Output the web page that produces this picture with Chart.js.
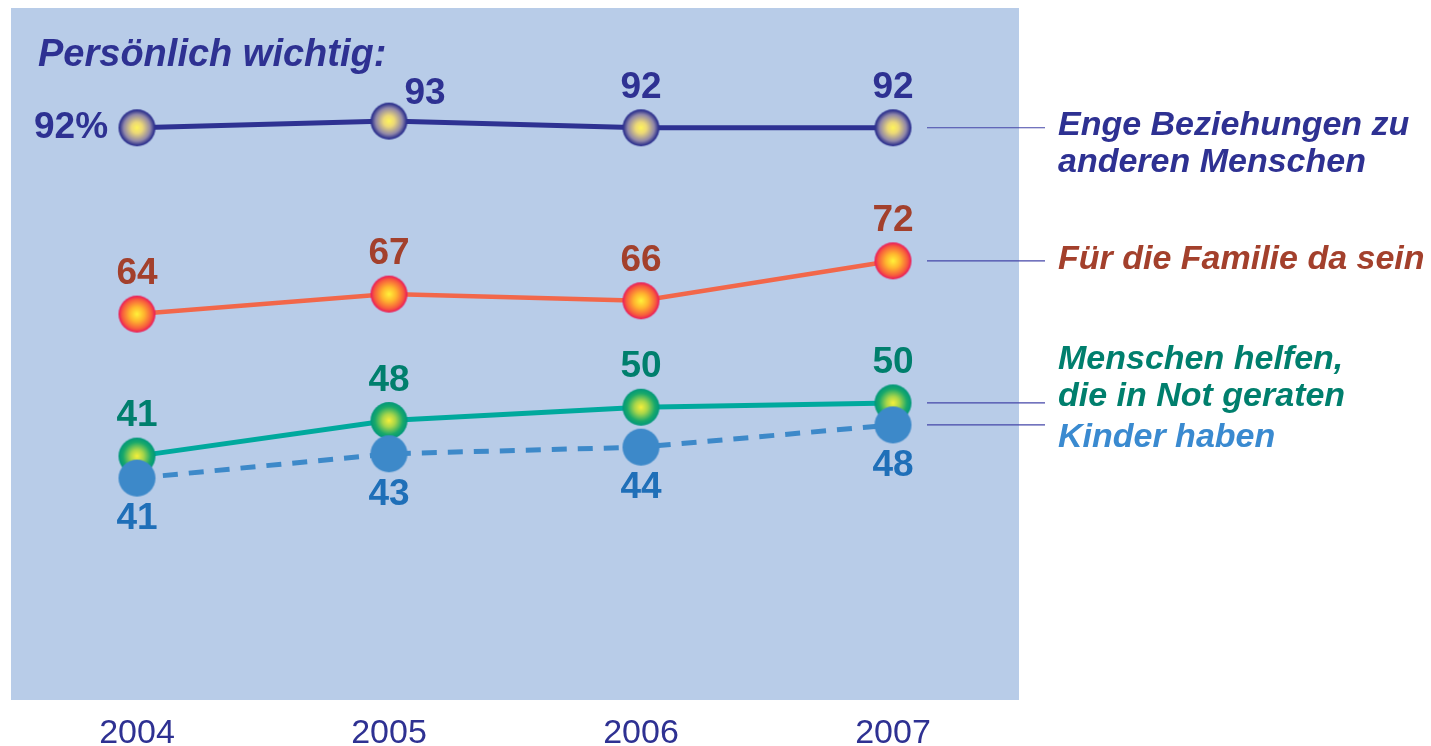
<!DOCTYPE html>
<html>
<head>
<meta charset="utf-8">
<script src="https://cdn.jsdelivr.net/npm/chart.js@4.4.1/dist/chart.umd.min.js"></script>
<style>
  html, body { margin: 0; padding: 0; background: #fff; }
  #wrap { width: 1431px; height: 746px; position: relative; }
</style>
</head>
<body>
<div id="wrap"><canvas id="lineChart"></canvas></div>
<script>
// values
const years = ['2004', '2005', '2006', '2007']
const beziehungen = [92, 93, 92, 92]
const familie = [64, 67, 66, 72]
const helfen = [41, 48, 50, 50]
const kinder = [41, 43, 44, 48]

const titleText = 'Persönlich wichtig:'
const seriesNames = [
  ['Enge Beziehungen zu', 'anderen Menschen'],
  ['Für die Familie da sein'],
  ['Menschen helfen,', 'die in Not geraten'],
  ['Kinder haben']
]

const NAVY = '#2e3192'
const FONT = "'Liberation Sans', Arial, sans-serif"

// shiny ball point marker
function ball(stops) {
  const r = 18.5
  const c = document.createElement('canvas')
  c.width = c.height = 39
  const g = c.getContext('2d')
  const grad = g.createRadialGradient(19.5, 19.5, 0, 19.5, 19.5, r)
  stops.forEach(s => grad.addColorStop(s[0], s[1]))
  g.fillStyle = grad
  g.beginPath()
  g.arc(19.5, 19.5, r, 0, Math.PI * 2)
  g.fill()
  return c
}

const ballNavy = ball([[0, '#fff55a'], [0.3, '#ecd878'], [0.72, '#8f86a8'], [0.93, '#34378f'], [1, '#2e3192']])
const ballRed = ball([[0, '#fff23a'], [0.4, '#ffb42e'], [0.8, '#f75a3e'], [1, '#e8175d']])
const ballGreen = ball([[0, '#f6f03a'], [0.35, '#a8d64a'], [0.75, '#1aa96a'], [1, '#00977a']])
const ballBlue = ball([[0, '#3d89c9'], [1, '#3d89c9']])

// panel, title, labels, leader lines
const decor = {
  id: 'decor',
  beforeDraw(chart) {
    const {ctx, chartArea: a} = chart
    ctx.save()
    ctx.fillStyle = '#b8cce8'
    ctx.fillRect(a.left, a.top, a.right - a.left, a.bottom - a.top)
    ctx.fillStyle = NAVY
    ctx.font = 'bold italic 38px ' + FONT
    ctx.textAlign = 'left'
    ctx.textBaseline = 'middle'
    ctx.fillText(titleText, 38, 56)
    ctx.restore()
  },
  // keep the two lower series' balls from sitting on top of each other
  afterDatasetsUpdate(chart) {
    const up = chart.getDatasetMeta(2).data
    const down = chart.getDatasetMeta(3).data
    const minGap = 22
    up.forEach((p, i) => {
      const q = down[i]
      if (Math.abs(q.y - p.y) < minGap) {
        const mid = (p.y + q.y) / 2
        p.y = mid - minGap / 2
        q.y = mid + minGap / 2
      }
    })
  },
  afterDatasetsDraw(chart) {
    const ctx = chart.ctx
    ctx.save()
    ctx.textAlign = 'center'
    ctx.textBaseline = 'middle'
    chart.data.datasets.forEach((ds, d) => {
      const pts = chart.getDatasetMeta(d).data
      ctx.fillStyle = ds.labelColor
      ctx.font = 'bold 37px ' + FONT
      pts.forEach((pt, i) => {
        let x = pt.x, y = pt.y
        const where = ds.labelPlace[i]
        if (where === 'left') x -= 66
        else if (where === 'above-right') { x += 36; y -= 27 }
        else if (where === 'above') y -= 40
        else y += 41
        const txt = ds.data[i] + (d === 0 && i === 0 ? '%' : '')
        ctx.fillText(txt, x, y)
      })

      // leader line + series name on the right
      const last = pts[pts.length - 1]
      const ly = last.y
      ctx.strokeStyle = '#4446a8'
      ctx.lineWidth = 1.2
      ctx.beginPath()
      ctx.moveTo(927, ly)
      ctx.lineTo(1045, ly)
      ctx.stroke()

      ctx.fillStyle = ds.nameColor
      ctx.font = 'bold italic 34px ' + FONT
      ctx.textAlign = 'left'
      const names = seriesNames[d]
      const y0 = ly + ds.nameShift - ds.nameAnchor * 37
      names.forEach((n, k) => ctx.fillText(n, 1058, y0 + k * 37))
      ctx.textAlign = 'center'
    })
    ctx.restore()
  }
}

new Chart(document.getElementById('lineChart'), {
  type: 'line',
  data: {
    labels: years,
    datasets: [
      {
        data: beziehungen, borderColor: NAVY, borderWidth: 5,
        pointStyle: ballNavy, pointRadius: 18, order: 1,
        labelColor: NAVY, labelPlace: ['left', 'above-right', 'above', 'above'],
        nameColor: NAVY, nameAnchor: 0, nameShift: -2
      },
      {
        data: familie, borderColor: '#f2674a', borderWidth: 4.5,
        pointStyle: ballRed, pointRadius: 18, order: 1,
        labelColor: '#a3402c', labelPlace: ['above', 'above', 'above', 'above'],
        nameColor: '#a3402c', nameAnchor: 0, nameShift: -1
      },
      {
        data: helfen, borderColor: '#00a99d', borderWidth: 5,
        pointStyle: ballGreen, pointRadius: 18, order: 1,
        labelColor: '#007f6d', labelPlace: ['above', 'above', 'above', 'above'],
        nameColor: '#007f6d', nameAnchor: 1, nameShift: -6
      },
      {
        data: kinder, borderColor: '#3d89c9', borderWidth: 5, borderDash: [15, 11],
        pointStyle: ballBlue, pointRadius: 18, order: 0,
        labelColor: '#1f6fb8', labelPlace: ['below', 'below', 'below', 'below'],
        nameColor: '#3a8ad0', nameAnchor: 0, nameShift: 13
      }
    ]
  },
  options: {
    responsive: true,
    maintainAspectRatio: false,
    animation: false,
    layout: { autoPadding: false, padding: { left: 11, right: 412, top: 8, bottom: -22 } },
    plugins: { legend: { display: false }, tooltip: { enabled: false } },
    scales: {
      x: {
        offset: true,
        grid: { display: false, drawTicks: false },
        border: { display: false },
        ticks: { color: NAVY, padding: 17, font: { family: FONT, size: 34, lineHeight: 1 } }
      },
      y: { display: false, min: 6, max: 110 }
    }
  },
  plugins: [decor]
})
</script>
</body>
</html>
